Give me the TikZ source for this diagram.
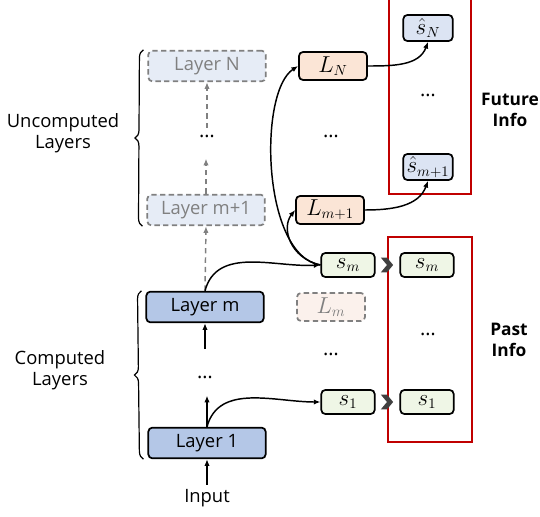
\documentclass[tikz,border=0pt]{standalone}
\usepackage{fontspec}
\setmainfont{Open Sans}
\usetikzlibrary{arrows.meta, positioning, calc, shapes.symbols, decorations.pathreplacing}

\definecolor{layerblue}{HTML}{B4C7E7}
\definecolor{paleblue}{HTML}{E6ECF6}
\definecolor{hatblue}{HTML}{DCE4F3}
\definecolor{peach}{HTML}{FBE5D6}
\definecolor{palepeach}{HTML}{FBF1EC}
\definecolor{palegreen}{HTML}{EFF6E6}
\definecolor{infored}{HTML}{C00000}
\definecolor{fadegray}{HTML}{808080}

\begin{document}
\begin{tikzpicture}[
  x=0.75pt, y=-0.75pt,
  font=\fontsize{13.8}{16}\selectfont,
  layer/.style = {draw, line width=1.3pt, rounded corners=3pt, fill=layerblue, minimum width=88pt, minimum height=23pt, inner sep=0pt},
  ghost/.style = {layer, draw=fadegray, fill=paleblue, text=fadegray, dash pattern=on 4pt off 2.5pt},
  lbox/.style = {draw, line width=1.3pt, rounded corners=3pt, fill=peach, minimum width=51pt, minimum height=21pt, inner sep=0pt, font=\fontsize{16}{18}\selectfont},
  lghost/.style = {lbox, draw=fadegray, fill=palepeach, text=fadegray, dash pattern=on 4pt off 2.5pt},
  sbox/.style = {draw, line width=1.3pt, rounded corners=3pt, fill=palegreen, minimum width=40pt, minimum height=18pt, inner sep=0pt, font=\fontsize{16}{18}\selectfont},
  hatbox/.style = {sbox, fill=hatblue, minimum width=37pt, minimum height=19.5pt},
  dots/.style = {inner sep=0pt, font=\fontsize{15}{18}\selectfont},
  chevron/.style = {shape=signal, signal to=east, signal from=west, fill=black!75, minimum width=9pt, minimum height=11pt, inner sep=0pt, signal pointer angle=100},
  frame/.style = {draw=infored, line width=2pt},
  arrow/.style = {line width=1.1pt, -{Latex[length=5pt, width=4pt]}},
  dasharrow/.style = {line width=1.1pt, draw=fadegray, dash pattern=on 4pt off 3pt, -{Latex[length=5pt, width=4pt]}},
  brace/.style = {decorate, decoration={brace, amplitude=6pt}, line width=0.9pt},
  info/.style = {font=\fontsize{13}{16}\selectfont\bfseries, align=center}
]
\useasboundingbox (0,0) rectangle (540,517);

% Layers
\node[layer] (layer1) at (207,443) {Layer 1};
\node[layer] (layerm) at (205,307) {Layer m};
\node[ghost] (layerm1) at (206,210) {Layer m+1};
\node[ghost] (layerN) at (207,66) {Layer N};
\node[dots] (dotsU) at (207,136) {\dots};
\node[dots] (dotsC) at (205,377) {\dots};
\node (input) at (207,498) {Input};

% Layer links
\draw[arrow] (input.north) -- (layer1.south);
\draw[arrow, shorten >=14pt] (layer1.north) -- (layer1.north |- dotsC);
\draw[arrow, shorten <=21pt] (layerm.south |- dotsC) -- (layerm.south);
\draw[dasharrow] (layerm.north) -- (layerm1.south);
\draw[dasharrow, shorten >=17pt] (layerm1.north) -- (layerm1.north |- dotsU);
\draw[dasharrow, shorten <=6pt] (layerN.south |- dotsU) -- (layerN.south);

% Braces
\draw[brace] ([xshift=-3pt]layerm1.south west) -- ([xshift=-3pt]layerN.north west);
\draw[brace] ([xshift=-3pt]layer1.south west) -- ([xshift=-3pt]layerm.north west);
\node[align=center] (uncomp) at (63,133) {Uncomputed\\Layers};
\node[align=center] (comp) at (60,370) {Computed\\Layers};

% Heads
\node[lbox] (LN) at (333,66) {$L_N$};
\node[lbox] (Lm1) at (330,210) {$L_{m+1}$};
\node[lghost] (Lm) at (331,307) {$L_m$};
\node[dots] (dotsL1) at (331,136) {\dots};
\node[dots] (dotsL2) at (331,354) {\dots};
\node[sbox] (sm) at (348,265) {$s_m$};
\node[sbox] (s1) at (348,402) {$s_1$};

% Info columns
\node[hatbox] (hsN) at (428,28) {$\hat{s}_N$};
\node[hatbox] (hsm1) at (428,167) {$\hat{s}_{m+1}$};
\node[dots] (dotsF) at (428,95) {\dots};
\node[sbox] (smp) at (427,265) {$s_m$};
\node[sbox] (s1p) at (427,402) {$s_1$};
\node[dots] (dotsP) at (428,334) {\dots};
\draw[frame] (389,-10) rectangle (471,194);
\draw[frame] (388,237) rectangle (472,442);
\node[info] (future) at (510,110) {Future\\Info};
\node[info] (past) at (509,340) {Past\\Info};
\node[chevron] (chm) at (387,265) {};
\node[chevron] (ch1) at (387,402) {};

% Hidden states to heads
\draw[arrow] (layerm.north) to[out=75, in=183] (sm.west);
\draw[arrow] (layer1.north) to[out=75, in=180] (s1.west);
\draw[arrow] (sm.west) .. controls (262,256) and (258,92) .. (LN.west);
\draw[arrow] (sm.west) .. controls (290,258) and (281,228) .. (Lm1.west);
\draw[arrow] (LN.east) to[out=0, in=250] (hsN.south);
\draw[arrow] (Lm1.east) to[out=0, in=250] (hsm1.south);

\end{tikzpicture}
\end{document}
